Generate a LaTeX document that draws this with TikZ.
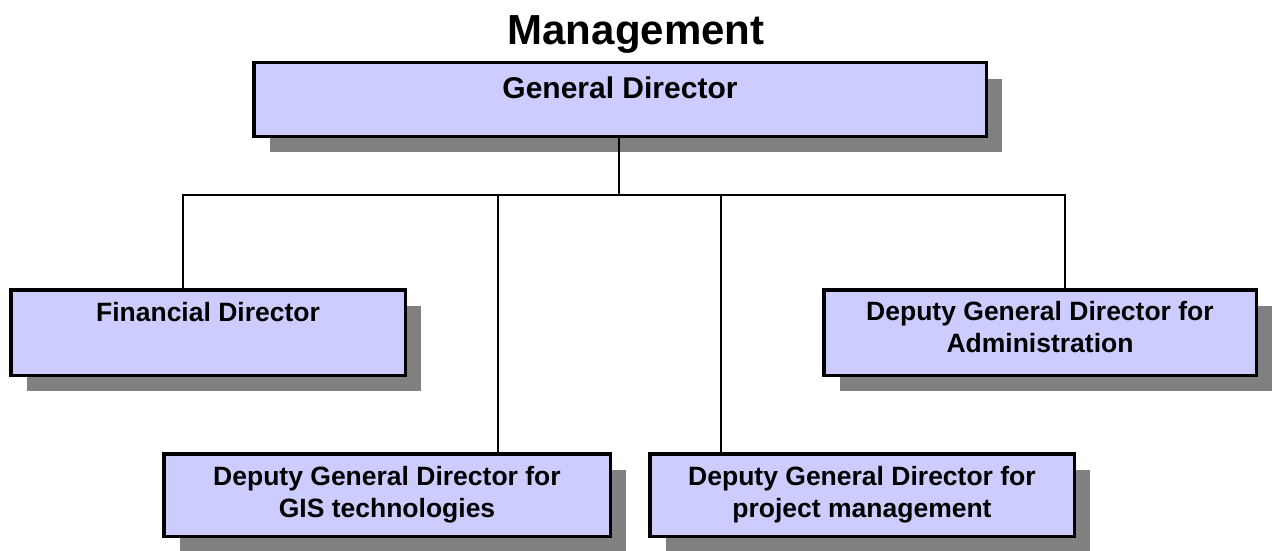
\documentclass[tikz,border=0pt]{standalone}
\usepackage{fontspec}
\setmainfont{Liberation Sans}
\usetikzlibrary{shadows}
\definecolor{boxfill}{HTML}{CCCCFF}
\definecolor{shadowgray}{HTML}{808080}
\begin{document}
\begin{tikzpicture}[x=1pt,y=-1pt,
  orgbox/.style={draw=black, line width=3.5pt, fill=boxfill, inner xsep=0pt, inner ysep=0pt,
    align=center, font=\bfseries\fontsize{26.5}{32}\selectfont,
    drop shadow={shadow xshift=16pt, shadow yshift=-16pt, fill=shadowgray, opacity=1}},
  link/.style={draw=black, line width=1.5pt, line join=miter}]
\useasboundingbox (0,0) rectangle (1279,551);
\clip (0,0) rectangle (1279,551);

\node[font=\bfseries\fontsize{42}{50}\selectfont, anchor=base, inner sep=0pt] (title) at (636,44.5) {Management};

\node[orgbox, minimum width=732.5pt, text height=35.25pt, text depth=38.25pt,
  font=\bfseries\fontsize{30}{36}\selectfont] (gd) at (620,99.5) {General Director};

\node[orgbox, minimum width=394.5pt, text height=31.75pt, text depth=53.75pt] (fin) at (208,332.5) {Financial Director};
\node[orgbox, minimum width=432.5pt, minimum height=85.5pt] (adm) at (1040,332.5) {Deputy General Director for\\Administration\rule[-12pt]{0pt}{1pt}};
\node[orgbox, minimum width=446.5pt, minimum height=82.5pt] (gis) at (387,495) {Deputy General Director for\\GIS technologies};
\node[orgbox, minimum width=424.5pt, minimum height=82.5pt] (prj) at (862,495) {Deputy General Director for\\project management};

\coordinate (bus) at (619,195);
\coordinate (t1) at (183,195);
\coordinate (t2) at (498,195);
\coordinate (t3) at (721,195);
\coordinate (t4) at (1065,195);

\draw[link] (gd.south -| bus) -- (bus);
\draw[link] (t1 |- fin.north) -- (t1) -- (t4) -- (t4 |- adm.north);
\draw[link] (t2) -- (t2 |- gis.north);
\draw[link] (t3) -- (t3 |- prj.north);
\end{tikzpicture}
\end{document}
